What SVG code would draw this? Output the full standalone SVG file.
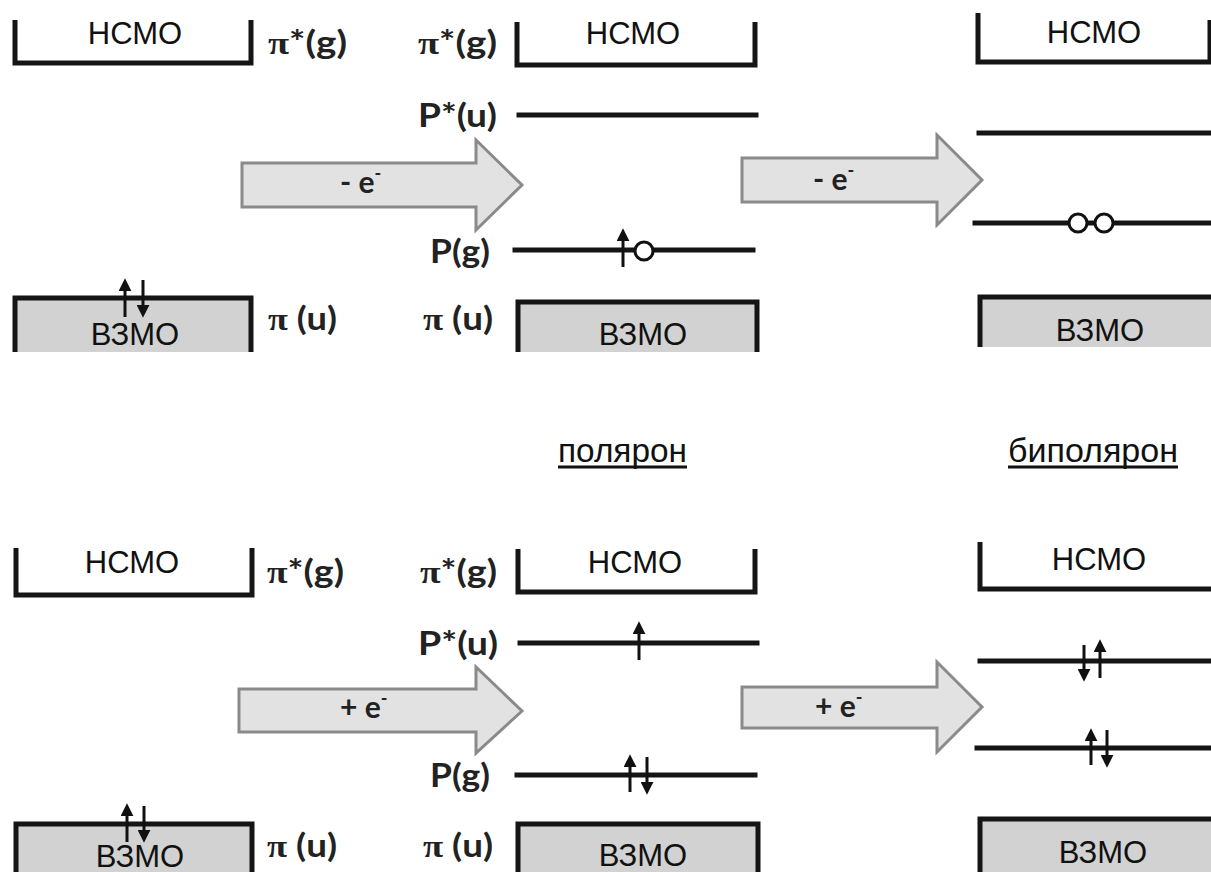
<svg xmlns="http://www.w3.org/2000/svg" width="1211" height="872" viewBox="0 0 1211 872">
<defs>
<marker id="ah" viewBox="0 0 12 12" refX="2" refY="6" markerWidth="13" markerHeight="13" markerUnits="userSpaceOnUse" orient="auto">
<path d="M0 0 L12 6 L0 12 Z" fill="#111"/>
</marker>
<style>
.lvl{stroke:#151515;stroke-width:5;fill:none;stroke-linecap:square}
.band{stroke:#151515;stroke-width:5;fill:none;stroke-linejoin:miter}
.fill{fill:#d2d2d2}
.box{font-family:"Liberation Sans",Arial,sans-serif;font-size:31px;fill:#111;text-anchor:middle}
.lab{font-family:Lato,"Open Sans","DejaVu Sans",sans-serif;font-weight:bold;font-size:32px;fill:#222}
.pi{font-family:"Liberation Serif","DejaVu Serif",serif;font-weight:bold}
.spin{stroke:#111;stroke-width:3;marker-end:url(#ah)}
.hole{fill:#fff;stroke:#111;stroke-width:3}
.big{fill:#e2e2e2;stroke:#8a8a8a;stroke-width:3;stroke-linejoin:miter}
.arrt{font-family:Lato,"Open Sans","DejaVu Sans",sans-serif;font-weight:bold;font-size:30px;fill:#222}
.cap{font-family:"Liberation Sans",Arial,sans-serif;font-size:34px;fill:#111}
.ul{stroke:#111;stroke-width:3}
</style>
</defs>

<!-- Top row -->
<g id="top-neutral">
<path class="band" d="M15 20 V63 H251 V20"/>
<text class="box" x="135" y="44">НСМО</text>
<rect class="fill" x="15" y="298" width="236" height="54"/>
<path class="band" d="M15 352 V298 H251 V352"/>
<text class="box" x="135" y="345">ВЗМО</text>
<line class="spin" x1="125" y1="317" x2="125" y2="289"/>
<line class="spin" x1="143" y1="280" x2="143" y2="307"/>
<text class="lab" x="268" y="54" textLength="79" lengthAdjust="spacingAndGlyphs"><tspan class="pi">π</tspan>*(g)</text>
<text class="lab" x="268" y="330" textLength="69" lengthAdjust="spacingAndGlyphs"><tspan class="pi">π</tspan> (u)</text>
</g>

<g id="top-polaron">
<path class="band" d="M517 22 V65 H755 V22"/>
<text class="box" x="633" y="44">НСМО</text>
<line class="lvl" x1="519" y1="115" x2="756" y2="115"/>
<line class="lvl" x1="515" y1="250" x2="753" y2="250"/>
<line class="spin" x1="623" y1="267" x2="623" y2="239"/>
<circle class="hole" cx="644" cy="251" r="9"/>
<rect class="fill" x="518" y="302" width="239" height="50"/>
<path class="band" d="M518 352 V302 H757 V352"/>
<text class="box" x="643" y="345">ВЗМО</text>
<text class="lab" x="497" y="54" text-anchor="end" textLength="79" lengthAdjust="spacingAndGlyphs"><tspan class="pi">π</tspan>*(g)</text>
<text class="lab" x="497" y="127" text-anchor="end" textLength="79" lengthAdjust="spacingAndGlyphs">P*(u)</text>
<text class="lab" x="490" y="263" text-anchor="end" textLength="60" lengthAdjust="spacingAndGlyphs">P(g)</text>
<text class="lab" x="493" y="330" text-anchor="end" textLength="70" lengthAdjust="spacingAndGlyphs"><tspan class="pi">π</tspan> (u)</text>
<text class="cap" x="558" y="462" textLength="129" lengthAdjust="spacingAndGlyphs">полярон</text>
<line class="ul" x1="558" y1="467" x2="687" y2="467"/>
</g>

<g id="top-bipolaron">
<path class="band" d="M978 13 V62 H1210 V20"/>
<text class="box" x="1094" y="43">НСМО</text>
<line class="lvl" x1="979" y1="133" x2="1213" y2="133"/>
<line class="lvl" x1="975" y1="223" x2="1213" y2="223"/>
<circle class="hole" cx="1078" cy="223" r="9"/>
<circle class="hole" cx="1104" cy="223" r="9"/>
<rect class="fill" x="980" y="297" width="235" height="50"/>
<path class="band" d="M980 347 V297 H1215"/>
<text class="box" x="1100" y="341">ВЗМО</text>
<text class="cap" x="1008" y="462" textLength="170" lengthAdjust="spacingAndGlyphs">биполярон</text>
<line class="ul" x1="1008" y1="467" x2="1178" y2="467"/>
</g>

<!-- Bottom row -->
<g id="bottom-neutral">
<path class="band" d="M16 548 V595 H252 V548"/>
<text class="box" x="132" y="573">НСМО</text>
<rect class="fill" x="16" y="824" width="236" height="50"/>
<path class="band" d="M16 874 V824 H252 V874"/>
<text class="box" x="140" y="867">ВЗМО</text>
<line class="spin" x1="127" y1="842" x2="127" y2="814"/>
<line class="spin" x1="144" y1="806" x2="144" y2="832"/>
<text class="lab" x="267" y="583" textLength="77" lengthAdjust="spacingAndGlyphs"><tspan class="pi">π</tspan>*(g)</text>
<text class="lab" x="267" y="857" textLength="70" lengthAdjust="spacingAndGlyphs"><tspan class="pi">π</tspan> (u)</text>
</g>

<g id="bottom-polaron">
<path class="band" d="M518 549 V592 H755 V549"/>
<text class="box" x="635" y="573">НСМО</text>
<line class="lvl" x1="520" y1="643" x2="757" y2="643"/>
<line class="lvl" x1="517" y1="775" x2="755" y2="775"/>
<line class="spin" x1="639" y1="660" x2="639" y2="632"/>
<line class="spin" x1="630" y1="792" x2="630" y2="765"/>
<line class="spin" x1="647" y1="757" x2="647" y2="784"/>
<rect class="fill" x="518" y="824" width="240" height="50"/>
<path class="band" d="M518 874 V824 H758 V874"/>
<text class="box" x="643" y="866">ВЗМО</text>
<text class="lab" x="497" y="583" text-anchor="end" textLength="77" lengthAdjust="spacingAndGlyphs"><tspan class="pi">π</tspan>*(g)</text>
<text class="lab" x="498" y="655" text-anchor="end" textLength="80" lengthAdjust="spacingAndGlyphs">P*(u)</text>
<text class="lab" x="490" y="787" text-anchor="end" textLength="60" lengthAdjust="spacingAndGlyphs">P(g)</text>
<text class="lab" x="493" y="857" text-anchor="end" textLength="70" lengthAdjust="spacingAndGlyphs"><tspan class="pi">π</tspan> (u)</text>
</g>

<g id="bottom-bipolaron">
<path class="band" d="M980 542 V589 H1215"/>
<text class="box" x="1099" y="570">НСМО</text>
<line class="lvl" x1="980" y1="661" x2="1213" y2="661"/>
<line class="lvl" x1="977" y1="748" x2="1213" y2="748"/>
<line class="spin" x1="1084" y1="645" x2="1084" y2="671"/>
<line class="spin" x1="1100" y1="678" x2="1100" y2="650"/>
<line class="spin" x1="1091" y1="765" x2="1091" y2="739"/>
<line class="spin" x1="1107" y1="730" x2="1107" y2="757"/>
<rect class="fill" x="980" y="819" width="235" height="55"/>
<path class="band" d="M980 874 V819 H1215"/>
<text class="box" x="1103" y="863">ВЗМО</text>
</g>

<!-- Connectors -->
<g id="connectors">
<path class="big" d="M242 163 H476 V140 L522 185 L476 230 V207 H242 Z"/>
<text class="arrt" x="340" y="193">- e<tspan dy="-13" font-size="18">-</tspan></text>
<path class="big" d="M742 158 H937 V135 L982 180 L937 225 V202 H742 Z"/>
<text class="arrt" x="813" y="190">- e<tspan dy="-13" font-size="18">-</tspan></text>
<path class="big" d="M239 689 H476 V667 L522 711 L476 753 V732 H239 Z"/>
<text class="arrt" x="340" y="718">+ e<tspan dy="-13" font-size="18">-</tspan></text>
<path class="big" d="M742 687 H937 V662 L982 707 L937 752 V728 H742 Z"/>
<text class="arrt" x="815" y="717">+ e<tspan dy="-13" font-size="18">-</tspan></text>
</g>
</svg>
